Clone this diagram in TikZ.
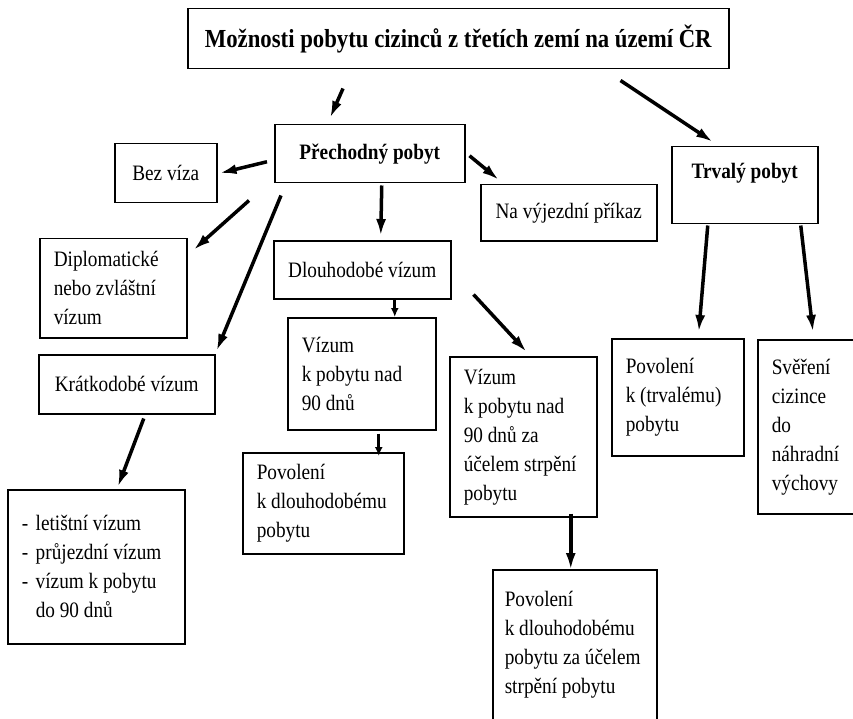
\documentclass[tikz,border=0pt]{standalone}
\usepackage{fontspec}
\setmainfont[FakeStretch=0.875]{Liberation Serif}
\usetikzlibrary{arrows.meta}
\hyphenpenalty=10000
\newcommand{\dashitem}{\makebox[14pt][l]{-}}
\tikzset{box/.style={draw, line width=1.5pt, anchor=north west, inner sep=0pt, font=\fontsize{22}{29}\selectfont},
	lbox/.style={box, align=flush left, inner xsep=14pt},
	head/.style={box, font=\fontsize{22}{29}\selectfont\bfseries},
	arr/.style={line width=3.5pt, -{Latex[length=17pt,width=10pt]}},
	shortarr/.style={line width=3pt, -{Latex[length=9pt,width=8pt]}}}

\begin{document}
\begin{tikzpicture}[x=1pt, y=-1pt]
	\useasboundingbox (0,0) rectangle (853,719);
	\node[box, font=\fontsize{26}{30}\selectfont\bfseries, minimum width=541pt, minimum height=60pt] (title) at (187,8) {Možnosti pobytu cizinců z třetích zemí na území ČR};
	\node[head, minimum width=190pt, minimum height=58pt] (prech) at (274,124) {Přechodný pobyt};
	\node[box, minimum width=102pt, minimum height=59pt] (bez) at (114,143) {Bez víza};
	\node[box, minimum width=176pt, minimum height=56pt] (navyj) at (480,184) {Na výjezdní příkaz};
	\node[head, minimum width=146pt, inner ysep=8pt, text height=24pt, text depth=37pt] (trvaly) at (671,146) {Trvalý pobyt};
	\node[lbox, text width=119pt, minimum height=99pt] (diplo) at (39,238) {Diplomatické\\nebo zvláštní\\vízum};
	\node[box, minimum width=176pt, minimum height=59pt] (kratko) at (38,354) {Krátkodobé vízum};
	\node[box, minimum width=177pt, minimum height=58pt] (dlouho) at (273,240) {Dlouhodobé vízum};
	\node[lbox, text width=120pt, minimum height=112pt] (viz90) at (287,317) {Vízum\\k pobytu nad\\90 dnů};
	\node[lbox, text width=133pt, minimum height=101pt] (povdl) at (242,452) {Povolení\\k dlouhodobému\\pobytu};
	\node[lbox, text width=149pt, minimum height=154pt] (list) at (7,489) {\dashitem letištní vízum\\\dashitem průjezdní vízum\\\dashitem vízum k pobytu\\\hspace*{14pt}do 90 dnů};
	\node[lbox, text width=119pt, minimum height=160pt] (vizstr) at (449,356) {Vízum\\k pobytu nad\\90 dnů za\\účelem strpění\\pobytu};
	\node[lbox, inner xsep=12pt, text width=140pt, minimum height=150pt] (povstr) at (492,569) {Povolení\\k dlouhodobému\\pobytu za účelem\\strpění pobytu};
	\node[lbox, text width=104pt, minimum height=117pt] (povtrv) at (611,338) {Povolení\\k (trvalému)\\pobytu};
	\node[lbox, text width=75pt, minimum height=174pt] (sver) at (757,339) {Svěření\\cizince\\do\\náhradní\\výchovy};

	\draw[arr] ([shift={(156,19)}]title.south west) -- ([shift={(56,-6)}]prech.north west);
	\draw[arr] ([shift={(-109,11)}]title.south east) -- ([shift={(42,-4)}]trvaly.north west);
	\draw[arr] ([shift={(-7,8)}]prech.west) -- ([shift={(2,0)}]bez.east);
	\draw[arr] ([shift={(4,2)}]prech.east) -- ([shift={(19,-4)}]navyj.north west);
	\draw[arr] ([shift={(12,2)}]prech.south) -- ([shift={(18.5,-4)}]dlouho.north);
	\draw[arr] ([shift={(-25,17)}]prech.south west) -- ([shift={(6,12)}]diplo.north east);
	\draw[arr] ([shift={(7,12)}]prech.south west) -- ([shift={(1,-3)}]kratko.north east);
	\draw[arr] ([shift={(17,4)}]kratko.south) -- ([shift={(21.5,-2)}]list.north);
	\draw[shortarr] ([shift={(32.5,0)}]dlouho.south) -- ([shift={(33,0)}]viz90.north);
	\draw[arr] ([shift={(22,-5)}]dlouho.south east) -- ([shift={(3.5,-4)}]vizstr.north);
	\draw[shortarr] ([shift={(17,3)}]viz90.south) -- ([shift={(55.5,4)}]povdl.north);
	\draw[arr] ([shift={(47.5,-4)}]vizstr.south) -- ([shift={(-4,1)}]povstr.north);
	\draw[arr] ([shift={(-37,1)}]trvaly.south) -- ([shift={(21,-6)}]povtrv.north);
	\draw[arr] ([shift={(56,1)}]trvaly.south) -- ([shift={(56,-7)}]sver.north west);
\end{tikzpicture}
\end{document}
